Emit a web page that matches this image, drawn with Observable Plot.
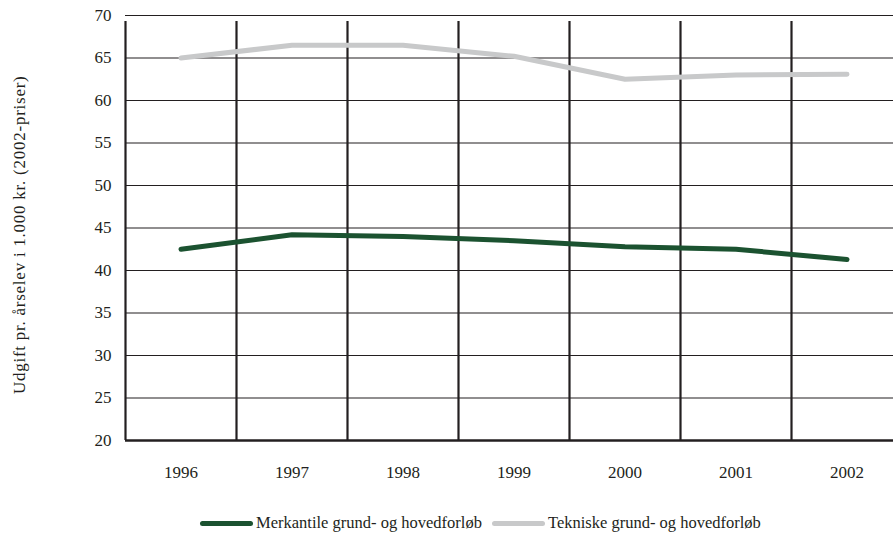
<!DOCTYPE html>
<html>
<head>
<meta charset="utf-8">
<script src="https://cdn.jsdelivr.net/npm/d3@7"></script>
<script src="https://cdn.jsdelivr.net/npm/@observablehq/plot@0.6"></script>
<style>
  html, body { margin: 0; padding: 0; background: #fff; overflow: hidden; width: 893px; height: 538px; }
  #chart { position: relative; width: 893px; height: 538px; }
  #chart svg { max-width: none !important; display: block; }
  .ylabel text { letter-spacing: 0.75px; }
  .legend { position: absolute; left: 0; top: 513px; width: 893px; font-family: "Liberation Serif", serif; font-size: 16.5px; color: #231f20; }
  .legend .item { position: absolute; display: flex; align-items: center; white-space: nowrap; }
  .legend .sw { display: inline-block; width: 53px; height: 5px; border-radius: 3px; margin-right: 3px; }
</style>
</head>
<body>
<div id="chart"></div>
<script>
const years = [1996, 1997, 1998, 1999, 2000, 2001, 2002];
const merkantile = [42.5, 44.2, 44.0, 43.5, 42.8, 42.5, 41.3];
const tekniske = [65.0, 66.5, 66.5, 65.2, 62.5, 63.0, 63.1];
const seriesNames = ["Merkantile grund- og hovedforløb", "Tekniske grund- og hovedforløb"];
const seriesColors = ["#1b5230", "#c8c9ca"];
const yTicks = [20, 25, 30, 35, 40, 45, 50, 55, 60, 65, 70];
const yLabel = "Udgift pr. årselev i 1.000 kr. (2002-priser)";

const data = [
  ...years.map((yr, i) => ({year: yr, value: merkantile[i], series: seriesNames[0]})),
  ...years.map((yr, i) => ({year: yr, value: tekniske[i], series: seriesNames[1]}))
];
const boundaries = years.map(y => y - 0.5);
const ink = "#231f20";
const yMin = yTicks[0], yMax = yTicks[yTicks.length - 1];

const chart = Plot.plot({
  width: 902,
  height: 490,
  marginLeft: 125,
  marginRight: 0,
  marginTop: 15,
  marginBottom: 50,
  style: {fontFamily: "Liberation Serif, serif", fontSize: "17px", color: ink, background: "#fff"},
  x: {type: "linear", domain: [years[0] - 0.5, years[years.length - 1] + 0.5], axis: null},
  y: {type: "linear", domain: [yMin, yMax], axis: null},
  color: {domain: seriesNames, range: seriesColors},
  marks: [
    Plot.ruleY(yTicks.slice(1), {stroke: ink, strokeWidth: 1.2}),
    Plot.ruleX(boundaries, {y1: yMin, y2: yMax, insetBottom: -6, stroke: ink, strokeWidth: 2.2}),
    Plot.ruleY([yMin], {stroke: ink, strokeWidth: 2.4}),
    Plot.text(yTicks, {x: boundaries[0], y: d => d, text: d => String(d), textAnchor: "end", dx: -14, fill: ink, fontSize: 17}),
    Plot.text(years, {x: d => d, y: yMin, text: d => String(d), dy: 32, fill: ink, fontSize: 17}),
    Plot.line(data, {x: "year", y: "value", stroke: "series", z: "series", strokeWidth: 5, strokeLinecap: "round", strokeLinejoin: "round"}),
    Plot.text([yLabel], {x: boundaries[0], y: (yMin + yMax) / 2 - 0.8, text: d => d, rotate: -90, dx: -106, fill: ink, fontSize: 17, className: "ylabel"})
  ]
});

const container = document.getElementById("chart");
container.appendChild(chart);

const legend = document.createElement("div");
legend.className = "legend";
const lefts = [200, 492];
seriesNames.forEach((name, i) => {
  const item = document.createElement("div");
  item.className = "item";
  item.style.left = lefts[i] + "px";
  const sw = document.createElement("span");
  sw.className = "sw";
  sw.style.background = seriesColors[i];
  const tx = document.createElement("span");
  tx.textContent = name;
  item.appendChild(sw);
  item.appendChild(tx);
  legend.appendChild(item);
});
container.appendChild(legend);
</script>
</body>
</html>
